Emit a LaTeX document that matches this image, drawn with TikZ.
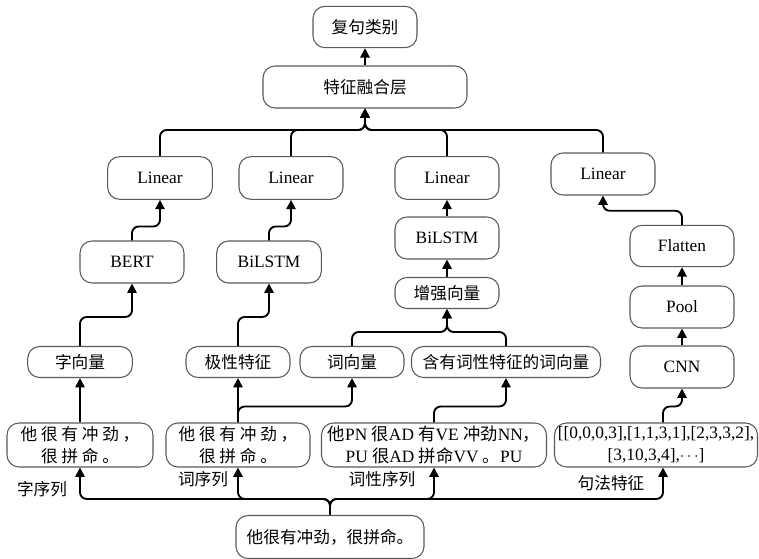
\documentclass[tikz,border=0pt]{standalone}
\usepackage{fontspec}
\setmainfont{Liberation Serif}
\newfontfamily\cjk{Noto Sans CJK SC}
\usetikzlibrary{arrows.meta,calc}
\newcommand\zh[1]{{\cjk #1}}
\begin{document}
\begin{tikzpicture}[x=0.75pt,y=-0.75pt,
  bx/.style={draw=black!65, line width=0.8pt, rounded corners=9pt, inner sep=0pt, align=center,
             font=\fontsize{13}{16.5}\selectfont},
  cn/.style={bx, font=\fontsize{12.5}{16.5}\selectfont\cjk},
  ar/.style={line width=1.4pt, rounded corners=5pt, -{Triangle[length=7pt,width=7pt]}},
  lb/.style={font=\fontsize{12.5}{15}\selectfont\cjk, inner sep=0pt}]
\useasboundingbox (0,0) rectangle (759,559);
% top
\node[cn, minimum width=78pt, minimum height=31pt] (out) at (365,27) {复句类别};
\node[cn, minimum width=153pt, minimum height=31.5pt] (fuse) at (365,87) {特征融合层};
% linears
\node[bx, minimum width=78.5pt, minimum height=32pt] (lin1) at (160,178) {Linear};
\node[bx, minimum width=78pt, minimum height=32pt] (lin2) at (291,178) {Linear};
\node[bx, minimum width=78pt, minimum height=32pt] (lin3) at (447,178) {Linear};
\node[bx, minimum width=78pt, minimum height=31.5pt] (lin4) at (603,174) {Linear};
% middle
\node[bx, minimum width=78pt, minimum height=31.5pt] (bert) at (132,262) {BERT};
\node[bx, minimum width=78.5pt, minimum height=31.5pt] (bil1) at (269,262) {BiLSTM};
\node[bx, minimum width=78pt, minimum height=31.5pt] (bil2) at (447,238) {BiLSTM};
\node[cn, minimum width=78pt, minimum height=23.25pt] (enh) at (447,293) {增强向量};
\node[bx, minimum width=78pt, minimum height=31pt] (flat) at (682,246) {Flatten};
\node[bx, minimum width=78pt, minimum height=31.5pt] (pool) at (682,307) {Pool};
\node[bx, minimum width=78pt, minimum height=31.5pt] (cnn) at (682,367) {CNN};
% feature row
\node[cn, minimum width=78.5pt, minimum height=23.25pt] (zi) at (80,362) {字向量};
\node[cn, minimum width=78pt, minimum height=23.25pt] (ji) at (238,362) {极性特征};
\node[cn, minimum width=78pt, minimum height=23.25pt] (ci) at (352,362) {词向量};
\node[cn, minimum width=141.75pt, minimum height=23.25pt] (han) at (506,362) {含有词性特征的词向量};
% sequences
\node[cn, minimum width=109.5pt, minimum height=33pt] (s1) at (80,445) {他 很 有 冲 劲 ，\\很 拼 命 。};
\node[cn, minimum width=108pt, minimum height=33pt] (s2) at (238,445) {他 很 有 冲 劲 ，\\很 拼 命 。};
\node[bx, minimum width=168.75pt, minimum height=33pt] (s3) at (434,445)
  {\zh{他}PN \zh{很}AD \zh{有}VE \zh{冲劲}NN\zh{，}\\PU \zh{很}AD \zh{拼命}VV \zh{。}PU};
\node[bx, minimum width=152.25pt, minimum height=33pt] (s4) at (656,445)
  {[[0,0,0,3],[1,1,3,1],[2,3,3,2],\\{}[3,10,3,4],$\cdots$]};
\node[cn, minimum width=141pt, minimum height=32.25pt] (src) at (330,537) {他很有冲劲，很拼命。};
% labels
\node[lb] (l1) at (42,489) {字序列};
\node[lb] (l2) at (203,479) {词序列};
\node[lb] (l3) at (382,479) {词性序列};
\node[lb] (l4) at (611,483) {句法特征};
% connectors
\draw[ar] (fuse.north) -- (out.south);
\coordinate (fj) at (365,130);
\foreach \n in {lin1,lin2,lin3,lin4} \draw[ar] (\n.north) |- (fj) -- (fuse.south);
\draw[ar] (bert.north) -- ++(0,-14) -| (lin1.south);
\draw[ar] (bil1.north) -- ++(0,-14) -| (lin2.south);
\draw[ar] (bil2.north) -- (lin3.south);
\draw[ar] (enh.north) -- (bil2.south);
\draw[ar] (flat.north) -- ++(0,-14) -| (lin4.south);
\draw[ar] (pool.north) -- (flat.south);
\draw[ar] (cnn.north) -- (pool.south);
\draw[ar] (zi.north) -- ++(0,-29) -| (bert.south);
\draw[ar] (ji.north) -- ++(0,-29) -| (bil1.south);
\coordinate (ej) at (447,332);
\draw[ar] (ci.north) |- (ej) -- (enh.south);
\draw[ar] (han.north) |- (ej) -- (enh.south);
\draw[ar] (s1.north) -- (zi.south);
\draw[ar] (s2.north) -- (ji.south);
\draw[ar] (s2.north) -- ++(0,-16) -| (ci.south);
\draw[ar] (s3.north) -- ++(0,-16) -| (han.south);
\coordinate (s4o) at ($(s4.north)+(7,0)$);
\coordinate (s4i) at ($(s4.south)+(7,0)$);
\draw[ar] (s4o) -- ++(0,-16) -| (cnn.south);
\draw[ar] (src.north) -- ++(0,-16) -| (s1.south);
\draw[ar] (src.north) -- ++(0,-16) -| (s2.south);
\draw[ar] (src.north) -- ++(0,-16) -| (s3.south);
\draw[ar] (src.north) -- ++(0,-16) -| (s4i);
\end{tikzpicture}
\end{document}
